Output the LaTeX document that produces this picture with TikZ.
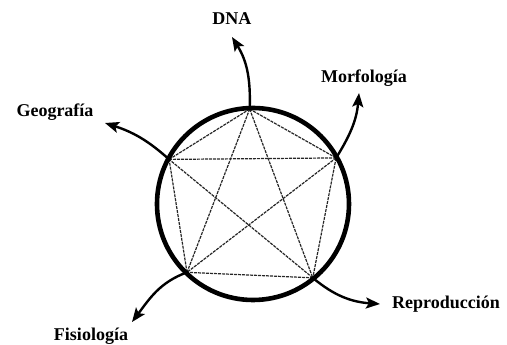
\documentclass[tikz,border=0pt]{standalone}
\usepackage{fontspec}
\setmainfont{Liberation Serif}
\usetikzlibrary{arrows.meta}
\begin{document}
\begin{tikzpicture}[x=1pt,y=1pt,
    lbl/.style={font=\fontsize{18}{18}\selectfont\bfseries,anchor=base,inner sep=0pt},
    link/.style={dash pattern=on 3pt off 1pt,line width=1.2pt,black!85},
    branch/.style={line width=2.4pt,-{Stealth[length=14pt,width=11pt,inset=3pt]}}]
            \useasboundingbox (-253,-141) rectangle (254,204);
            \foreach \n/\a in {a/92,b/29,c/309,d/226,e/152}
            \coordinate (\n) at (\a:95pt);
            \foreach \p/\q in {a/b,b/c,c/d,d/e,e/a,a/c,c/e,e/b,b/d,d/a}
            \draw[link](\p)--(\q);
            \draw[line width=4.6pt](0,0)circle(96pt);
            \coordinate (ta) at (-21,167);
            \coordinate (tb) at (106,111);
            \coordinate (tc) at (127,-100);
            \coordinate (td) at (-121,-118);
            \coordinate (te) at (-148,81);
            \draw[branch](a) to[out=88,in=-58] (ta);
            \draw[branch](b) to[out=58,in=-95] (tb);
            \draw[branch](c) to[out=-40,in=176] (tc);
            \draw[branch](d) to[out=200,in=53] (td);
            \draw[branch](e) to[out=138,in=-18] (te);
            \node[lbl] (dna) at (-21,179) {DNA};
            \node[lbl] (morf) at (111,121) {Morfología};
            \node[lbl] (repro) at (193,-105) {Reproducción};
            \node[lbl] (fisio) at (-162,-137) {Fisiología};
            \node[lbl] (geo) at (-198,87) {Geografía};
\end{tikzpicture}
\end{document}
